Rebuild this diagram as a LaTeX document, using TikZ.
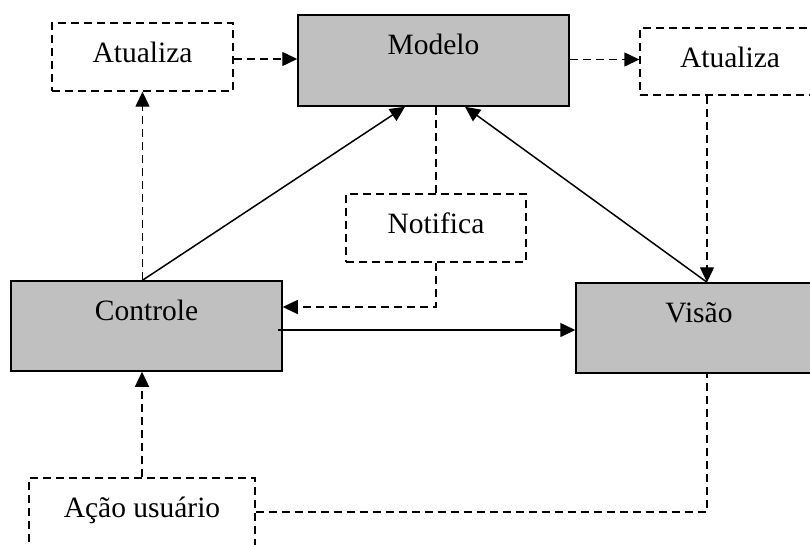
\documentclass[tikz,border=0pt]{standalone}
\usepackage{fontspec}
\setmainfont{Liberation Serif}
\usepackage{tikz}
\usetikzlibrary{arrows.meta, calc}
\definecolor{cinza}{RGB}{192,192,192}
\tikzset{
    caixa/.style = {draw, inner xsep = 0pt, inner ysep = 0pt, text height = 39pt,
        font = \fontsize{29.5}{30}\selectfont},
    cheia/.style = {caixa, fill = cinza, line width = 1.5pt},
    tracejada/.style = {caixa, line width = 1.4pt, dash pattern = on 8pt off 5pt},
    seta/.style = {line width = 1.5pt, -{Triangle[length = 15pt, width = 14pt]}},
    linha/.style = {line width = 1.4pt, dash pattern = on 8pt off 5pt}
}

\begin{document}
\begin{tikzpicture}[x = 1pt, y = -1pt]
    % Area
    \clip (0,0) rectangle (810,544);
    % Caixas
    \node[cheia, minimum width = 271pt, text depth = 52pt] (modelo) at (433.5,60.5) {Modelo};
    \node[tracejada, minimum width = 181pt, text depth = 29pt] (atuEsq) at (142.5,57) {Atualiza};
    \node[tracejada, minimum width = 180pt, text depth = 28pt] (atuDir) at (730,61.5) {Atualiza};
    \node[tracejada, minimum width = 180pt, text depth = 29pt] (notifica) at (436,228) {Notifica};
    \node[cheia, minimum width = 271pt, text depth = 51pt] (controle) at (146.5,326) {Controle};
    \node[cheia, minimum width = 246pt, text depth = 51pt] (visao) at (699,328) {Visão};
    \node[tracejada, minimum width = 226pt, text depth = 51pt] (acao) at (142,523) {Ação usuário};
    % Pontos
    \coordinate (vTopo) at ([xshift = 8pt]visao.north);
    \coordinate (cTopo) at (atuEsq.south |- controle.north);
    \coordinate (mEsq) at ([xshift = -28.5pt]modelo.south);
    \coordinate (mDir) at ([xshift = 31.5pt]modelo.south);
    \coordinate (cNotif) at ([yshift = 19pt]controle.east);
    \coordinate (cSaida) at ([yshift = -4pt]controle.east);
    \coordinate (aSaida) at ([yshift = 11pt]acao.east);
    % Setas tracejadas
    \draw[seta, linha] ([yshift = -2pt]atuEsq.east) -- ([yshift = -2pt]atuEsq.east -| modelo.west);
    \draw[seta, linha] (cTopo) -- (atuEsq.south);
    \draw[seta, linha] ([yshift = 1pt]modelo.east) -- ([yshift = 1pt]modelo.east -| atuDir.west);
    \draw[seta, linha] (vTopo |- atuDir.south) -- (vTopo);
    \draw[linha] (notifica.north |- modelo.south) -- (notifica.north);
    \draw[seta, linha] (notifica.south) |- (cNotif);
    \draw[seta, linha] (acao.north) -- (acao.north |- controle.south);
    \draw[linha] (aSaida) -| (vTopo |- visao.south);
    % Setas cheias
    \draw[seta] (cTopo) -- (mEsq);
    \draw[seta] (vTopo) -- (mDir);
    \draw[seta] ([xshift = -5pt]cSaida) -- (cSaida -| visao.west);
\end{tikzpicture}
\end{document}
